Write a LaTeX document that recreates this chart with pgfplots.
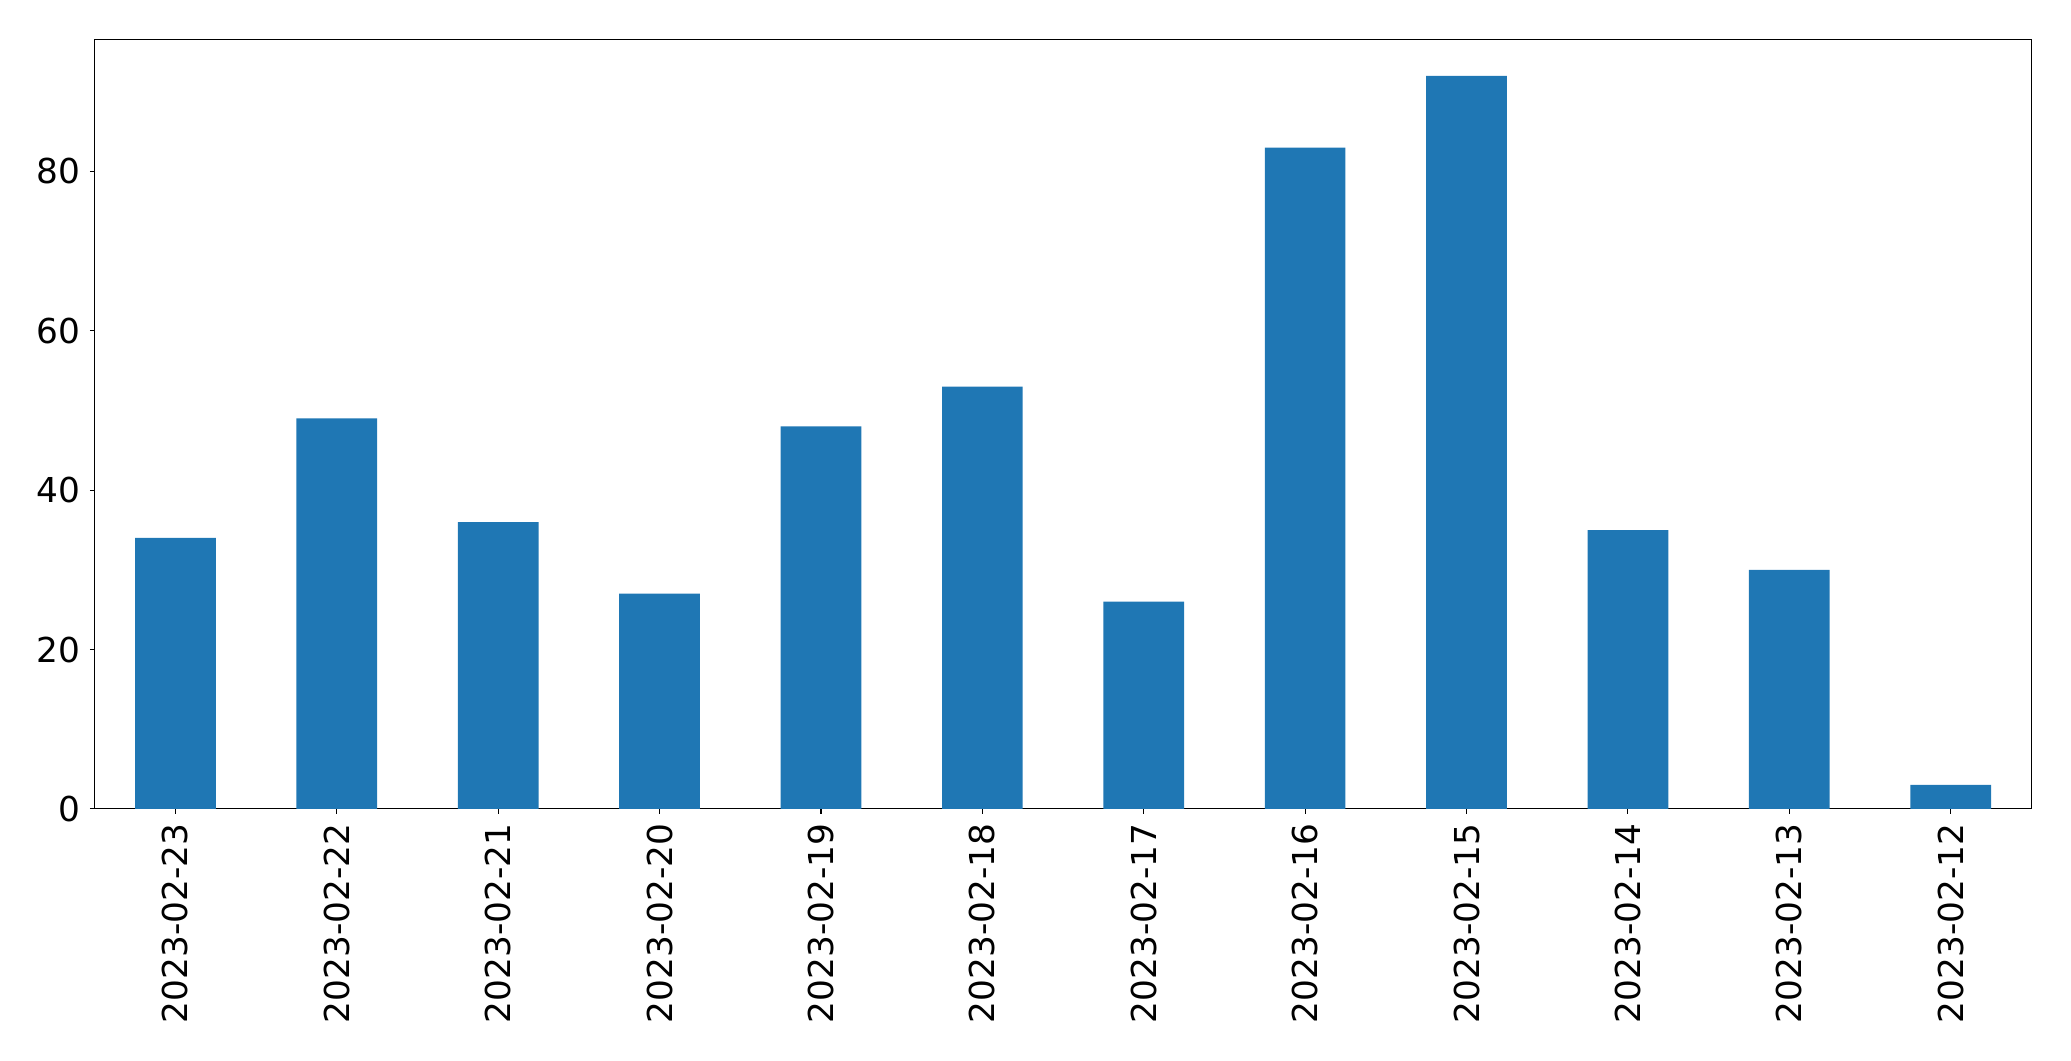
\documentclass[border=0pt]{standalone}
\usepackage{pgfplots}
\pgfplotsset{compat=1.18}
\usepackage{fontspec}
\setmainfont{DejaVu Sans}
\definecolor{mplblue}{HTML}{1F77B4}
\begin{document}
\begin{tikzpicture}
\useasboundingbox (0,0) rectangle (1491.12bp,763.6bp);
\begin{axis}[
  at={(68.2bp,181.2bp)}, anchor=south west,
  scale only axis,
  width=1394.4bp, height=554.2bp,
  xmin=-0.5, xmax=11.5, ymin=0, ymax=96.6,
  axis line style={line width=0.8bp},
  tick style={line width=0.8bp, black},
  major tick length=3.5bp,
  tick align=outside,
  xtick pos=bottom, ytick pos=left,
  xtick={0,...,11},
  xticklabels={2023-02-23,2023-02-22,2023-02-21,2023-02-20,2023-02-19,2023-02-18,2023-02-17,2023-02-16,2023-02-15,2023-02-14,2023-02-13,2023-02-12},
  x tick label style={rotate=90, anchor=east, inner sep=0pt, xshift=-7bp},
  y tick label style={anchor=east, inner sep=0pt, xshift=-7bp},
  ytick={0,20,40,60,80},
  ticklabel style={font=\fontsize{24.8}{30}\selectfont},
  /pgf/number format/assume math mode=true,
  clip=false,
]
\addplot[ybar, bar width=0.5, fill=mplblue, draw=none] coordinates {
(0,34) (1,49) (2,36) (3,27) (4,48) (5,53) (6,26) (7,83) (8,92) (9,35) (10,30) (11,3)
};
\end{axis}
\end{tikzpicture}
\end{document}
